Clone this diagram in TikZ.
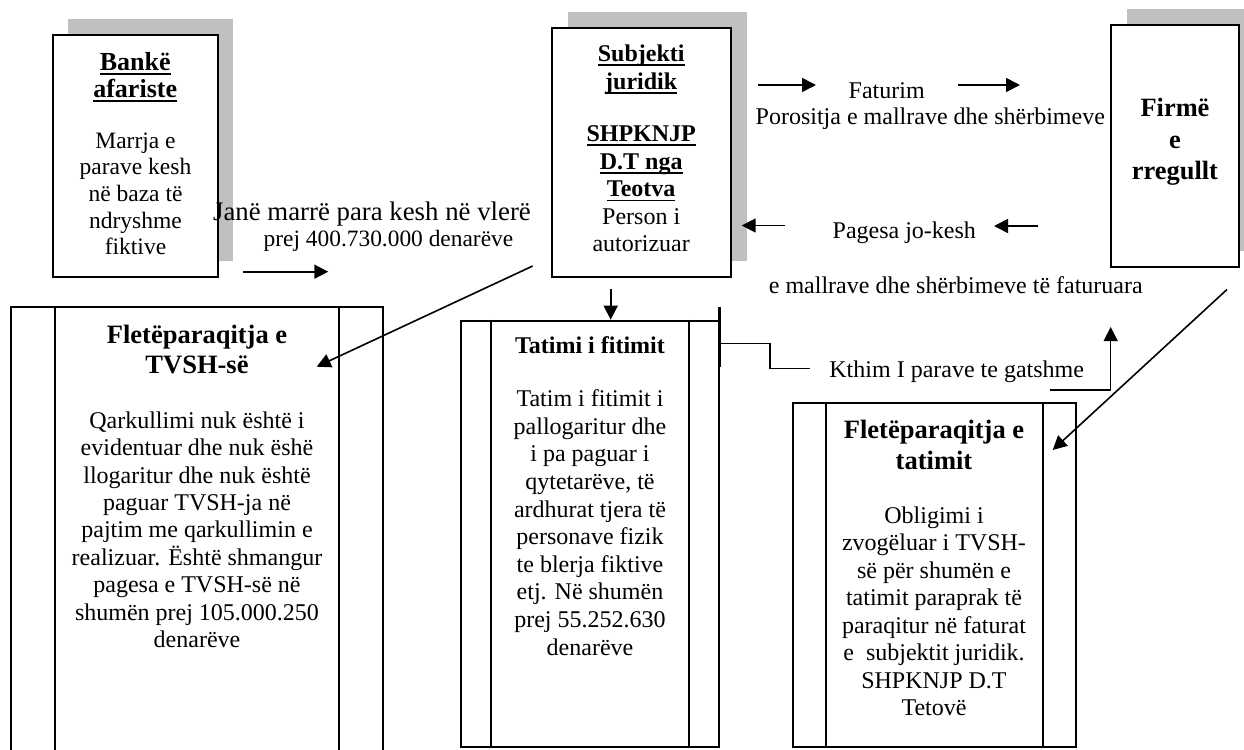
\documentclass[tikz,border=0pt]{standalone}
\usepackage{fontspec}
\setmainfont{Liberation Serif}
\usetikzlibrary{arrows.meta,calc}
\definecolor{shade}{RGB}{192,192,192}
\newcommand{\ulx}[1]{\leavevmode\setbox0\hbox{#1}\rlap{\rule[-2.3pt]{\wd0}{0.9pt}}\box0}
\newcommand{\tbox}[4]{\parbox[t]{#1}{\centering\fontsize{#2}{#3}\selectfont #4}}
\begin{document}
\begin{tikzpicture}[x=0.5pt,y=-0.5pt]
\tikzset{
 shadowbox/.style={fill=shade, draw=none, inner sep=0pt},
 mainbox/.style={draw, line width=1pt, fill=white, inner sep=0pt},
 scroll/.style={draw, line width=1pt, inner sep=0pt},
 txt/.style={inner sep=0pt, anchor=base},
 conn/.style={line width=0.8pt},
 arr/.style={conn, -{Triangle[length=7pt,width=7pt]}},
}
\useasboundingbox (0,0) rectangle (1244,750);
\clip (0,0) rectangle (1244,750);

% shadowed boxes
\node[shadowbox, minimum width=82.5pt, minimum height=121pt] (bankS) at (150.5,140) {};
\node[mainbox, minimum width=82.5pt, minimum height=120.85pt] (bank) at (135.2,155.85) {};
\node[shadowbox, minimum width=89.5pt, minimum height=124.2pt] (subS) at (657.2,136.4) {};
\node[mainbox, minimum width=89.5pt, minimum height=124.2pt] (sub) at (641.2,152.5) {};
\node[shadowbox, minimum width=64.3pt, minimum height=120.85pt] (firmS) at (1191,129.85) {};
\node[mainbox, minimum width=64.3pt, minimum height=120.85pt] (firm) at (1175,145.85) {};

% scroll boxes
\node[scroll, minimum width=186.15pt, minimum height=231.35pt] (tvsh) at (197.15,538.65) {};
\draw[scroll] ($(tvsh.north west)+(44.7,0)$) -- ($(tvsh.south west)+(44.7,0)$);
\draw[scroll] ($(tvsh.north east)+(-45,0)$) -- ($(tvsh.south east)+(-45,0)$);
\node[scroll, minimum width=129.15pt, minimum height=213pt] (tat) at (589.85,533.7) {};
\draw[scroll] ($(tat.north west)+(31.6,0)$) -- ($(tat.south west)+(31.6,0)$);
\draw[scroll] ($(tat.north east)+(-31.3,0)$) -- ($(tat.south east)+(-31.3,0)$);
\node[scroll, minimum width=141.2pt, minimum height=171.7pt] (ftat) at (934.5,575) {};
\draw[scroll] ($(ftat.north west)+(34,0)$) -- ($(ftat.south west)+(34,0)$);
\draw[scroll] ($(ftat.north east)+(-34,0)$) -- ($(ftat.south east)+(-34,0)$);

% texts in boxes
\node[txt] (bankT) at (135.2,70) {\tbox{100pt}{13}{13.8}{\bfseries\ulx{Bankë}\\\ulx{afariste}}};
\node[txt] (bankB) at (135.5,148) {\tbox{100pt}{11.75}{13.35}{Marrja e\\parave kesh\\në baza të\\ndryshme\\fiktive}};
\node[txt] (subT) at (641.2,61.5) {\tbox{100pt}{12}{13.75}{\bfseries\ulx{Subjekti}\\\ulx{juridik}}};
\node[txt] (subB) at (641.2,141.5) {\tbox{100pt}{12}{13.8}{\bfseries\ulx{SHPKNJP}\\\ulx{D.T nga}\\\ulx{Teotva}\\\mdseries Person i\\autorizuar}};
\node[txt] (firmT) at (1175,116.7) {\tbox{80pt}{13.2}{15.8}{\bfseries Firmë\\e\\rregullt}};

\node[txt] (tvshT) at (197,343.3) {\tbox{160pt}{13.25}{15}{\bfseries Fletëparaqitja e\\TVSH-së}};
\node[txt] (tvshB) at (197,428.3) {\tbox{160pt}{12}{13.7}{Qarkullimi nuk është i\\evidentuar dhe nuk ëshë\\llogaritur dhe nuk është\\paguar TVSH-ja në\\pajtim me qarkullimin e\\realizuar. Është shmangur\\pagesa e TVSH-së në\\shumën prej 105.000.250\\denarëve}};
\node[txt] (tatT) at (590,353.3) {\tbox{110pt}{12}{13.8}{\bfseries Tatimi i fitimit}};
\node[txt] (tatB) at (590,406.7) {\tbox{110pt}{12}{13.8}{Tatim i fitimit i\\pallogaritur dhe\\i pa paguar i\\qytetarëve, të\\ardhurat tjera të\\personave fizik\\te blerja fiktive\\etj. Në shumën\\prej 55.252.630\\denarëve}};
\node[txt] (ftatT) at (934,438.3) {\tbox{120pt}{13.25}{15.8}{\bfseries Fletëparaqitja e\\tatimit}};
\node[txt] (ftatB) at (934,523.3) {\tbox{120pt}{12}{13.75}{Obligimi i\\zvogëluar i TVSH-\\së për shumën e\\tatimit paraprak të\\paraqitur në faturat\\e\ \ subjektit juridik.\\SHPKNJP D.T\\Tetovë}};

% free labels
\node[txt, anchor=base west] (jane1) at (212.7,220) {\fontsize{13.4}{15}\selectfont Janë marrë para kesh në vlerë};
\node[txt, anchor=base west] (jane2) at (263.3,246) {\fontsize{11.7}{13.5}\selectfont prej 400.730.000 denarëve};
\node[txt] (fat) at (886.7,98.3) {\fontsize{12}{13.8}\selectfont Faturim};
\node[txt] (por) at (930.3,124.3) {\fontsize{12}{13.8}\selectfont Porositja e mallrave dhe shërbimeve};
\node[txt] (pag) at (904.3,238) {\fontsize{12}{13.8}\selectfont Pagesa jo-kesh};
\node[txt] (emal) at (955.8,293.3) {\fontsize{12}{13.8}\selectfont e mallrave dhe shërbimeve të faturuara};
\node[txt] (kth) at (956.7,377.7) {\fontsize{12}{13.8}\selectfont Kthim I parave te gatshme};

% connectors
\coordinate (a1s) at (243,271.7);
\coordinate (a1e) at (328.3,271.7);
\draw[arr] (a1s) -- (a1e);

\coordinate (dgs) at (532.7,266);
\draw[arr] (dgs) -- (316.7,366.7);

\coordinate (dns) at (610.7,289);
\draw[arr] (dns) -- (dns |- tat.north);

\coordinate (f1s) at (758,85); \coordinate (f1e) at (816,85);
\draw[arr] (f1s) -- (f1e);
\coordinate (f2s) at (958,85); \coordinate (f2e) at (1020,85);
\draw[arr] (f2s) -- (f2e);

\coordinate (p1s) at (1037.7,226); \coordinate (p1e) at (994,226);
\draw[arr] (p1s) -- (p1e);
\coordinate (p2s) at (785,225.5); \coordinate (p2e) at (741.7,225.5);
\draw[arr] (p2s) -- (p2e);

\coordinate (fds) at (1227,289.5);
\draw[arr] (fds) -- (1052.7,450);

% return of cash elbow
\draw[line width=1.3pt] (719.5,307) -- (719.5,367);
\coordinate (k1) at (720,343.3);
\coordinate (k2) at (810,368.3);
\draw[conn, line width=0.7pt] (k1) -- (770,343.3) -- (770,368.3) -- (k2);
\coordinate (k3) at (1050,390);
\coordinate (k4) at (1110.7,327);
\draw[conn, line width=0.7pt, -{Triangle[length=7pt,width=7pt]}] (k3) -- (1110.7,390) -- (k4);
\end{tikzpicture}
\end{document}
